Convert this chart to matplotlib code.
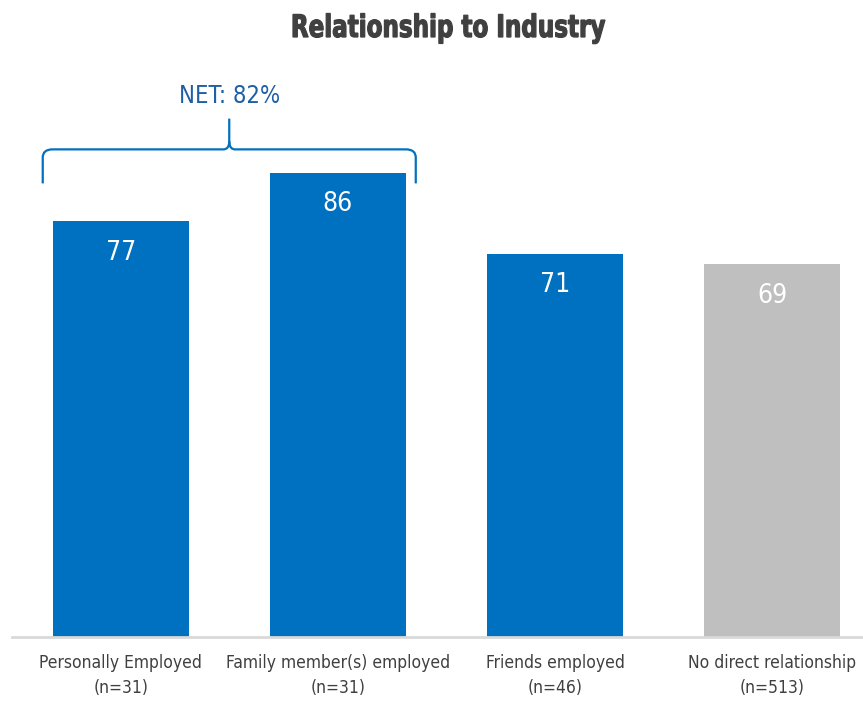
import matplotlib.pyplot as plt
from matplotlib.path import Path
from matplotlib.patches import PathPatch
from matplotlib.textpath import TextPath
from matplotlib.font_manager import FontProperties
from matplotlib.transforms import Affine2D, IdentityTransform

categories = ["Personally Employed", "Family member(s) employed",
              "Friends employed", "No direct relationship"]
sample_sizes = [31, 31, 46, 513]
values = [77, 86, 71, 69]
bar_colors = ["#0070C0", "#0070C0", "#0070C0", "#BFBFBF"]
net_value = 82
net_span = (0, 1)  # bars grouped under the NET bracket
title = "Relationship to Industry"

plt.rcParams["font.family"] = ["DejaVu Sans"]
plt.rcParams["font.stretch"] = "condensed"

W, H = 863, 701
fig = plt.figure(figsize=(W / 100, H / 100), dpi=100)
ax = fig.add_axes([12 / W, 64 / H, 869 / W, 540 / H])

x = list(range(len(categories)))
width = 0.625
ax.bar(x, values, width=width, color=bar_colors, zorder=2)
ax.set_xlim(-0.5, 3.5)
ax.set_ylim(0, 100)

for xi, v in zip(x, values):
    ax.text(xi, v - 5.8, f"{v}", ha="center", va="center", color="white",
            fontsize=19, fontstretch="condensed")

labels = [f"{c}\n(n={n})" for c, n in zip(categories, sample_sizes)]
ax.set_xticks(x)
ax.set_xticklabels(labels, fontsize=12.5, color="#404040", linespacing=1.55,
                   fontstretch="condensed")
ax.tick_params(axis="x", length=0, pad=12)
ax.set_yticks([])
for s in ["top", "right", "left"]:
    ax.spines[s].set_visible(False)
ax.spines["bottom"].set_color("#D9D9D9")
ax.spines["bottom"].set_linewidth(2)

# curly bracket over the NET group
pad = 0.046
xl = net_span[0] - width / 2 - pad
xr = net_span[1] + width / 2 + pad
xm = (xl + xr) / 2
top = max(values[net_span[0]:net_span[1] + 1])
y0, y1, y2 = top - 2, top + 4.3, top + 10
r = 0.045
ry = 1.5
verts = [
    (xl, y0), (xl, y1 - ry), (xl, y1), (xl + r, y1),
    (xm - r * 0.6, y1), (xm, y1), (xm, y1 + ry), (xm, y2),
    (xm, y1 + ry), (xm, y1), (xm + r * 0.6, y1),
    (xr - r, y1), (xr, y1), (xr, y1 - ry), (xr, y0),
]
codes = [Path.MOVETO, Path.LINETO, Path.CURVE3, Path.CURVE3,
         Path.LINETO, Path.CURVE3, Path.CURVE3, Path.LINETO,
         Path.MOVETO, Path.CURVE3, Path.CURVE3,
         Path.LINETO, Path.CURVE3, Path.CURVE3, Path.LINETO]
ax.add_patch(PathPatch(Path(verts, codes), fill=False, edgecolor="#0070C0",
                       linewidth=1.6, clip_on=False))
ax.text(xm, y2 + 4.2, f"NET: {net_value}%", ha="center", va="center",
        color="#1F5FA6", fontsize=17, fontstretch="condensed", clip_on=False)

# squeezed heavy title, drawn as a path in pixel space
tp = TextPath((0, 0), title, size=31,
              prop=FontProperties(family="DejaVu Sans", weight="bold",
                                  stretch="condensed"))
ext = tp.get_extents()
cx = (ext.x0 + ext.x1) / 2
sx = 312 / ext.width
tr = Affine2D().translate(-cx, 0).scale(sx, 1).translate(449, H - 37)
fig.add_artist(PathPatch(tr.transform_path(tp), facecolor="#404040",
                         edgecolor="#404040", linewidth=0.9,
                         transform=IdentityTransform()))

fig.savefig("out.png", dpi=100)
